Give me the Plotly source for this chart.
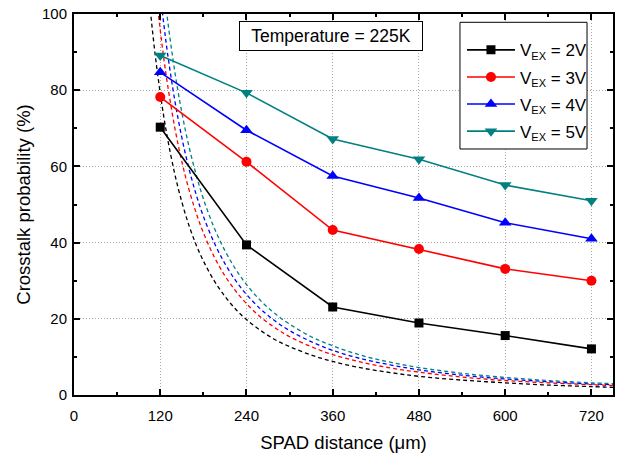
import plotly.graph_objects as go

# Measured data (SPAD distance in um, crosstalk probability in %)
distance = [120, 240, 360, 480, 600, 720]
p_2v = [70.3, 39.4, 23.1, 18.9, 15.6, 12.1]
p_3v = [78.2, 61.2, 43.3, 38.3, 33.1, 30.0]
p_4v = [84.7, 69.5, 57.5, 51.7, 45.2, 41.0]
p_5v = [89.1, 79.3, 67.2, 61.9, 55.1, 51.0]

# Dashed model curves
dx = [100, 105, 110, 115, 120, 125, 130, 140, 150, 160, 170, 180, 195, 210, 225,
      240, 260, 280, 300, 330, 360, 400, 440, 480, 540, 600, 660, 720, 750]
d_2v = [114.0, 103.4, 94.2, 86.2, 79.2, 73.0, 67.5, 58.2, 50.7, 44.5, 39.4, 35.2, 30.0,
        25.9, 22.5, 19.8, 16.9, 14.5, 12.7, 10.5, 8.8, 7.1, 5.9, 4.9, 3.9, 3.2, 2.6, 2.2, 2.0]
d_3v = [138.0, 125.2, 114.0, 104.3, 95.8, 88.3, 81.7, 70.4, 61.3, 53.9, 47.8, 42.6, 36.3,
        31.3, 27.3, 24.0, 20.4, 17.6, 15.3, 12.7, 10.6, 8.6, 7.1, 6.0, 4.7, 3.8, 3.2, 2.7, 2.5]
d_4v = [152.0, 137.9, 125.6, 114.9, 105.6, 97.3, 89.9, 77.6, 67.6, 59.4, 52.6, 46.9, 40.0,
        34.5, 30.0, 26.4, 22.5, 19.4, 16.9, 14.0, 11.7, 9.5, 7.9, 6.6, 5.2, 4.2, 3.5, 2.9, 2.7]
d_5v = [167.0, 151.5, 138.0, 126.3, 116.0, 106.9, 98.8, 85.2, 74.2, 65.2, 57.8, 51.5, 43.9,
        37.9, 33.0, 29.0, 24.7, 21.3, 18.6, 15.3, 12.9, 10.4, 8.6, 7.2, 5.7, 4.6, 3.8, 3.2, 3.0]

x_ticks = [0, 120, 240, 360, 480, 600, 720]
y_ticks = [0, 20, 40, 60, 80, 100]

SUB = '<sub><span style="font-size:11px">EX</span></sub>'
series_names = ["V" + SUB + " = 2V", "V" + SUB + " = 3V", "V" + SUB + " = 4V", "V" + SUB + " = 5V"]
colors = ["#000000", "#ff0000", "#0000ff", "#008080"]
symbols = ["square", "circle", "triangle-up", "triangle-down"]
msizes = [9, 10, 11, 11]

FONT = "Liberation Sans, Arial, sans-serif"

fig = go.Figure()

for yd, c in zip([d_2v, d_3v, d_4v, d_5v], colors):
    fig.add_trace(go.Scatter(x=dx, y=yd, mode="lines", showlegend=False,
                             line=dict(color=c, width=1.3, dash="4px,3px", shape="spline"),
                             hoverinfo="skip"))

for i, (yv, name, c, s, ms) in enumerate(zip([p_2v, p_3v, p_4v, p_5v], series_names, colors, symbols, msizes)):
    fig.add_trace(go.Scatter(x=distance, y=yv, mode="lines+markers", name=name,
                             legendgroup="g%d" % i,
                             line=dict(color=c, width=1.6),
                             marker=dict(color=c, symbol=s, size=ms, line=dict(width=0))))

axis_common = dict(
    showline=True, linecolor="black", linewidth=2, mirror="ticks",
    ticks="inside", ticklen=6, tickwidth=1.5, tickcolor="black",
    showgrid=True, gridcolor="#a8a8a8", griddash="1px,2px", gridwidth=1,
    zeroline=False, automargin=False, ticklabeloverflow="allow",
    tickfont=dict(family=FONT, size=15, color="black"),
)

fig.update_xaxes(range=[0, 750], tickvals=x_ticks,
                 minor=dict(dtick=60, tick0=0, ticks="inside", ticklen=3, tickcolor="black", showgrid=False),
                 ticklabelstandoff=6,
                 title=dict(text="SPAD distance (\u03bcm)", font=dict(family=FONT, size=18.5, color="black"), standoff=13),
                 **axis_common)
fig.update_yaxes(range=[0, 100], tickvals=y_ticks,
                 minor=dict(dtick=10, tick0=0, ticks="inside", ticklen=3, tickcolor="black", showgrid=False),
                 ticklabelstandoff=2,
                 title=dict(text="Crosstalk probability (%)", font=dict(family=FONT, size=18.5, color="black"), standoff=6),
                 **axis_common)

fig.add_annotation(text="Temperature = 225K", xref="paper", yref="paper",
                   x=0.4765, y=0.9417, xanchor="center", yanchor="middle", showarrow=False,
                   width=174, height=20,
                   font=dict(family=FONT, size=17.5, color="black"),
                   bordercolor="black", borderwidth=1, borderpad=4, bgcolor="white")

# legend frame (white box drawn over the plot, legend entries sit on top of it)
fig.add_shape(type="rect", xref="paper", yref="paper",
              x0=0.7161, x1=0.9518, y0=0.6457, y1=0.9782,
              fillcolor="white", line=dict(color="black", width=1), layer="above")

fig.update_layout(
    width=624, height=457,
    margin=dict(l=74, r=11, t=14, b=62),
    paper_bgcolor="white", plot_bgcolor="white",
    font=dict(family=FONT, color="black"),
    legend=dict(x=0.7198, y=0.952, xanchor="left", yanchor="top",
                bgcolor="rgba(0,0,0,0)", borderwidth=0,
                font=dict(family=FONT, size=17, color="black"),
                tracegroupgap=2, itemwidth=48),
    showlegend=True,
)

# remove the default 8px page margin so the figure sits at the window origin
fig.write_html("out.html", config={"displayModeBar": False},
               post_script="document.body.style.margin='0';")
